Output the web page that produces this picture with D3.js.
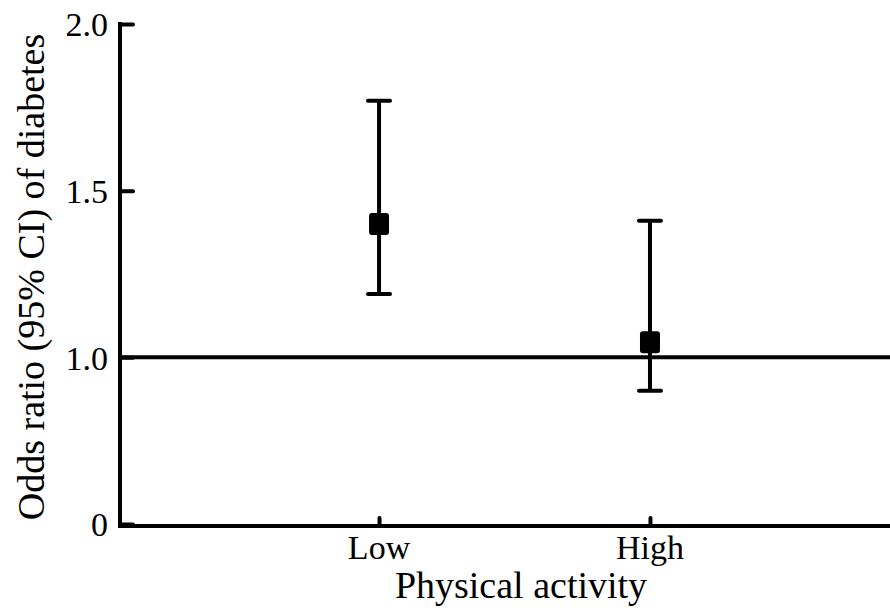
<!DOCTYPE html>
<html lang="en">
<head>
<meta charset="UTF-8">
<title>Odds ratio of diabetes</title>
<script src="https://cdn.jsdelivr.net/npm/d3@7"></script>
<style>
  body { margin: 0; background: #fff; }
  svg text { font-family: "Liberation Serif", "DejaVu Serif", "Times New Roman", Times, serif; }
</style>
</head>
<body>
<svg width="890" height="611"></svg>
<script>
  // data
  var groups = ["Low", "High"]
  var oddsRatio = [1.40, 1.045]
  var ciLower = [1.19, 0.90]
  var ciUpper = [1.77, 1.41]
  var yTicks = [0.5, 1.0, 1.5, 2.0]
  var yTickLabels = ["0", "1.0", "1.5", "2.0"]   // bottom of axis is labelled 0 (broken axis)

  var svg = d3.select("svg")
  var m = {left: 120, right: 890, top: 24, bottom: 524}

  var x = d3.scalePoint().domain(groups).range([m.left, 909]).padding(0.956)
  var y = d3.scaleLinear().domain([0.5, 2.0]).range([m.bottom, m.top])

  // y axis, ticks pointing inward
  var yAxis = svg.append("g").attr("transform", `translate(${m.left},0)`)
    .call(d3.axisRight(y).tickValues(yTicks).tickSize(13).tickFormat(""))
  yAxis.select(".domain").remove()
  yAxis.selectAll(".tick line").attr("stroke", "#000").attr("stroke-width", 4).attr("stroke-linecap", "round")
  svg.append("line").attr("x1", m.left).attr("x2", m.left).attr("y1", m.top - 2).attr("y2", m.bottom + 2)
    .attr("stroke", "#000").attr("stroke-width", 4)
  svg.append("g").selectAll("text").data(yTicks).enter().append("text")
    .attr("x", 108).attr("y", d => y(d)).attr("dy", "0.36em")
    .attr("text-anchor", "end").attr("font-size", 34)
    .text((d, i) => yTickLabels[i])

  // x axis
  svg.append("line").attr("x1", m.left - 2).attr("x2", m.right).attr("y1", m.bottom + 2).attr("y2", m.bottom + 2)
    .attr("stroke", "#000").attr("stroke-width", 4)
  var xAxis = svg.append("g").attr("transform", `translate(0,${m.bottom + 2})`)
    .call(d3.axisTop(x).tickSize(8).tickFormat(""))
  xAxis.select(".domain").remove()
  xAxis.selectAll(".tick line").attr("stroke", "#000").attr("stroke-width", 4).attr("stroke-linecap", "round")
  svg.append("g").selectAll("text").data(groups).enter().append("text")
    .attr("x", d => x(d)).attr("y", 559).attr("text-anchor", "middle").attr("font-size", 34)
    .text(d => d)

  // reference line at OR = 1
  svg.append("line").attr("x1", m.left).attr("x2", m.right).attr("y1", y(1)).attr("y2", y(1))
    .attr("stroke", "#000").attr("stroke-width", 4)

  // error bars
  var bars = svg.append("g").selectAll("g").data(groups).enter().append("g")
  bars.append("line")
    .attr("x1", d => x(d)).attr("x2", d => x(d))
    .attr("y1", (d, i) => y(ciLower[i])).attr("y2", (d, i) => y(ciUpper[i]))
    .attr("stroke", "#000").attr("stroke-width", 4)
  bars.append("line")
    .attr("x1", d => x(d) - 11).attr("x2", d => x(d) + 11)
    .attr("y1", (d, i) => y(ciUpper[i])).attr("y2", (d, i) => y(ciUpper[i]))
    .attr("stroke", "#000").attr("stroke-width", 4).attr("stroke-linecap", "round")
  bars.append("line")
    .attr("x1", d => x(d) - 11).attr("x2", d => x(d) + 11)
    .attr("y1", (d, i) => y(ciLower[i])).attr("y2", (d, i) => y(ciLower[i]))
    .attr("stroke", "#000").attr("stroke-width", 4).attr("stroke-linecap", "round")
  bars.append("rect")
    .attr("x", d => x(d) - 10).attr("y", (d, i) => y(oddsRatio[i]) - 11)
    .attr("width", 20).attr("height", 22).attr("rx", 3)
    .attr("fill", "#000")

  // axis titles
  svg.append("text").attr("transform", "translate(44,277) rotate(-90)")
    .attr("text-anchor", "middle").attr("font-size", 38)
    .text("Odds ratio (95% CI) of diabetes")
  svg.append("text").attr("x", 521).attr("y", 598)
    .attr("text-anchor", "middle").attr("font-size", 38)
    .text("Physical activity")
</script>
</body>
</html>
